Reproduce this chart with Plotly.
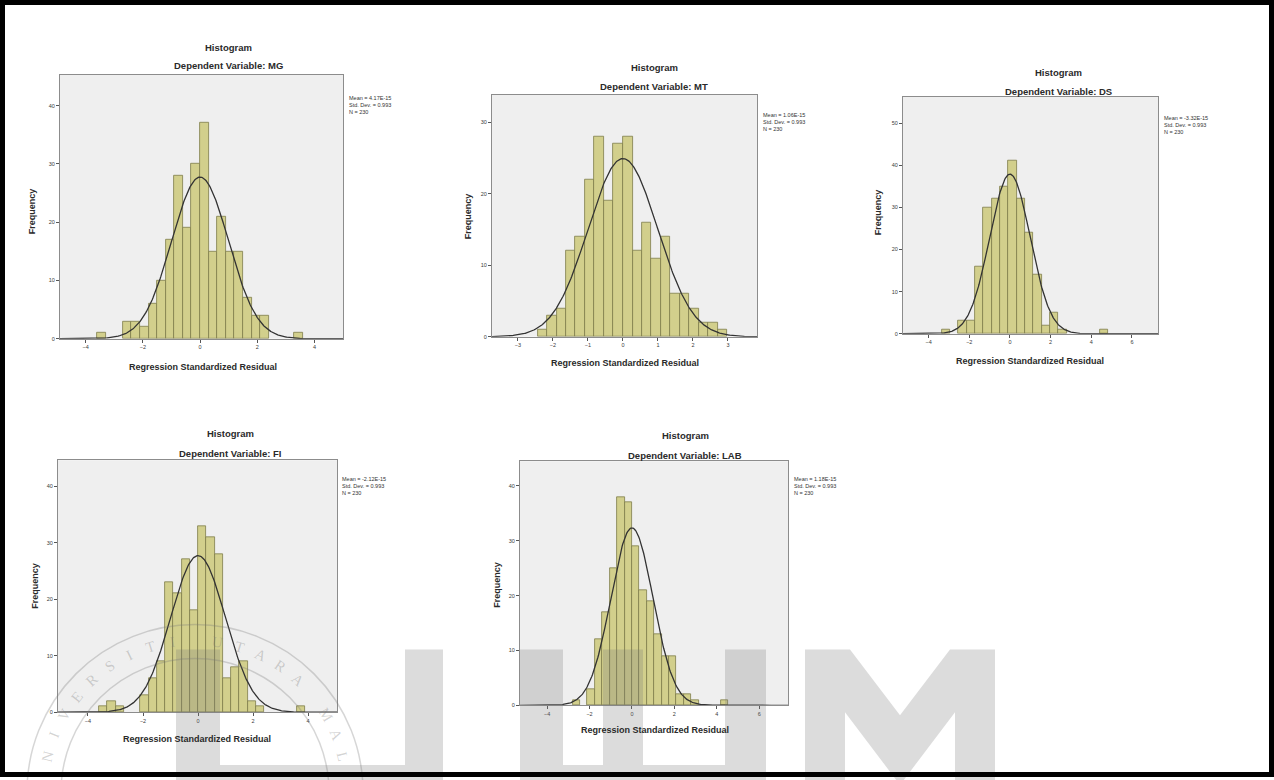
import numpy as np
import plotly.graph_objects as go

W, H = 1274, 780

# ---------------- data ----------------
mg_bins = [-3.45, -2.55, -2.25, -1.95, -1.65, -1.35, -1.05, -0.75, -0.45, -0.15,
           0.15, 0.45, 0.75, 1.05, 1.35, 1.65, 1.95, 2.25, 3.45]
mg_counts = [1, 3, 3, 2, 6, 10, 17, 28, 19, 30, 37, 15, 21, 15, 15, 7, 4, 4, 1]

mt_bins = [-2.30, -2.03, -1.76, -1.49, -1.22, -0.95, -0.68, -0.41, -0.14, 0.14,
           0.41, 0.68, 0.95, 1.22, 1.49, 1.76, 2.03, 2.30, 2.57, 2.84]
mt_counts = [1, 3, 4, 12, 14, 22, 28, 19, 27, 28, 12, 16, 11, 14, 6, 6, 4, 2, 2, 1]

ds_bins = [-3.16, -2.34, -1.93, -1.52, -1.11, -0.70, -0.29, 0.12, 0.53, 0.94,
           1.35, 1.76, 2.17, 2.58, 4.63]
ds_counts = [1, 3, 3, 16, 30, 32, 35, 41, 32, 24, 14, 2, 5, 1, 1]

fi_bins = [-3.45, -3.15, -2.85, -1.95, -1.65, -1.35, -1.05, -0.75, -0.45, -0.15,
           0.15, 0.45, 0.75, 1.05, 1.35, 1.65, 1.95, 2.25, 3.75]
fi_counts = [1, 2, 1, 3, 6, 9, 23, 21, 27, 18, 33, 31, 28, 6, 8, 9, 2, 1, 1]

lab_bins = [-2.625, -1.925, -1.575, -1.225, -0.875, -0.525, -0.175, 0.175, 0.525,
            0.875, 1.225, 1.575, 1.925, 2.275, 2.625, 2.975, 4.375]
lab_counts = [1, 3, 12, 17, 25, 38, 37, 29, 21, 19, 13, 9, 9, 2, 2, 1, 1]

bin_widths = {"MG": 0.30, "MT": 0.27, "DS": 0.41, "FI": 0.30, "LAB": 0.35}
n_cases = 230
resid_mean = 0.0
resid_sd = 0.993
stat_means = {"MG": "4.17E-15", "MT": "1.06E-15", "DS": "-3.32E-15",
              "FI": "-2.12E-15", "LAB": "1.18E-15"}

# ---------------- layout of each panel (pixels) ----------------
panels = [
    dict(name="MG", bins=mg_bins, counts=mg_counts,
         box=(60, 75, 343, 340), xr=(-4.9, 5.0), yr=(0, 45.3),
         xt=[-4, -2, 0, 2, 4], yt=[0, 10, 20, 30, 40],
         tx=228, ty=(48, 66), xl=(203, 368), yl=(32, 212), lg=(347, 93)),
    dict(name="MT", bins=mt_bins, counts=mt_counts,
         box=(492, 95, 757, 338), xr=(-3.74, 3.83), yr=(0, 33.9),
         xt=[-3, -2, -1, 0, 1, 2, 3], yt=[0, 10, 20, 30],
         tx=654, ty=(68, 87), xl=(625, 364), yl=(468, 217), lg=(761, 110)),
    dict(name="DS", bins=ds_bins, counts=ds_counts,
         box=(903, 97, 1158, 335), xr=(-5.26, 7.28), yr=(0, 56.3),
         xt=[-4, -2, 0, 2, 4, 6], yt=[0, 10, 20, 30, 40, 50],
         tx=1058, ty=(73, 92), xl=(1030, 362), yl=(878, 213), lg=(1162, 113)),
    dict(name="FI", bins=fi_bins, counts=fi_counts,
         box=(58, 462, 337, 715), xr=(-5.09, 5.05), yr=(0, 44.6),
         xt=[-4, -2, 0, 2, 4], yt=[0, 10, 20, 30, 40],
         tx=230, ty=(435, 455), xl=(197, 742), yl=(35, 588), lg=(340, 476)),
    dict(name="LAB", bins=lab_bins, counts=lab_counts,
         box=(520, 463, 788, 708), xr=(-5.28, 7.36), yr=(0, 44.5),
         xt=[-4, -2, 0, 2, 4, 6], yt=[0, 10, 20, 30, 40],
         tx=685, ty=(437, 457), xl=(655, 733), yl=(497, 587), lg=(792, 476)),
]


def px(x):
    return x / W


def py(y):
    return 1 - y / H


BAR_FILL = "#d2cf8c"
BAR_LINE = "#7d7c4a"
CURVE = "#333333"
TEXT = "#2a2a2a"
FONT = "Liberation Sans, Arial, sans-serif"

fig = go.Figure()
annotations = []
layout_axes = {}

for i, p in enumerate(panels, start=1):
    xa = "x" if i == 1 else f"x{i}"
    ya = "y" if i == 1 else f"y{i}"
    w = bin_widths[p["name"]]
    fig.add_trace(go.Bar(
        x=p["bins"], y=p["counts"], width=w,
        marker=dict(color=BAR_FILL, line=dict(color=BAR_LINE, width=0.8)),
        xaxis=xa, yaxis=ya, showlegend=False, hoverinfo="x+y"))
    xs = np.linspace(p["xr"][0], p["xr"][1], 400)
    ys = n_cases * w * np.exp(-0.5 * ((xs - resid_mean) / resid_sd) ** 2) / (resid_sd * np.sqrt(2 * np.pi))
    fig.add_trace(go.Scatter(
        x=xs, y=ys, mode="lines", line=dict(color=CURVE, width=1.3),
        xaxis=xa, yaxis=ya, showlegend=False, hoverinfo="skip"))

    x0, y0, x1, y1 = p["box"]
    axis_common = dict(showline=True, mirror=True, linecolor="#8c8c8c", linewidth=1,
                       ticks="outside", ticklen=3, tickcolor="#555555",
                       tickfont=dict(size=5.5, color="#3a3a3a", family=FONT),
                       showgrid=False, zeroline=False, fixedrange=True)
    layout_axes["xaxis" if i == 1 else f"xaxis{i}"] = dict(
        domain=[px(x0), px(x1)], anchor=ya, range=list(p["xr"]),
        tickvals=p["xt"], **axis_common)
    layout_axes["yaxis" if i == 1 else f"yaxis{i}"] = dict(
        domain=[py(y1), py(y0)], anchor=xa, range=list(p["yr"]),
        tickvals=p["yt"], **axis_common)

    annotations += [
        dict(text="<b>Histogram</b>", x=px(p["tx"]), y=py(p["ty"][0]),
             font=dict(size=9.5, color=TEXT, family=FONT)),
        dict(text=f"<b>Dependent Variable: {p['name']}</b>", x=px(p["tx"]), y=py(p["ty"][1]),
             font=dict(size=9.5, color=TEXT, family=FONT)),
        dict(text="<b>Regression Standardized Residual</b>", x=px(p["xl"][0]), y=py(p["xl"][1]),
             font=dict(size=9, color=TEXT, family=FONT)),
        dict(text="<b>Frequency</b>", x=px(p["yl"][0]), y=py(p["yl"][1]), textangle=-90,
             font=dict(size=9, color=TEXT, family=FONT)),
        dict(text=f"Mean = {stat_means[p['name']]}<br>Std. Dev. = {resid_sd}<br>N = {n_cases}",
             x=px(p["lg"][0]), y=py(p["lg"][1]), xanchor="left", yanchor="top", align="left",
             font=dict(size=5.5, color="#333333", family=FONT)),
    ]

for a in annotations:
    a.setdefault("xref", "paper")
    a.setdefault("yref", "paper")
    a.setdefault("showarrow", False)
    a.setdefault("xanchor", "center")
    a.setdefault("yanchor", "middle")

# ---------------- watermark (UUM) ----------------
WM = "rgba(120,120,120,0.26)"


def path_from(points):
    return "M " + " L ".join(f"{px(x):.5f},{py(y):.5f}" for x, y in points) + " Z"


def rect(x0, y0, x1, y1):
    return [(x0, y0), (x1, y0), (x1, y1), (x0, y1)]


shapes = []
wm_polys = [
    [(176, 652), (220, 652), (220, 768), (405, 768), (405, 652), (443, 652),
     (443, 800), (176, 800)],
    [(520, 652), (563, 652), (563, 768), (725, 768), (725, 652), (766, 652),
     (766, 800), (520, 800)],
    rect(603, 652, 643, 768),
    [(805, 800), (805, 652), (850, 652), (900, 718), (950, 652), (995, 652),
     (995, 800), (955, 800), (955, 715), (900, 788), (845, 715), (845, 800)],
]
for poly in wm_polys:
    shapes.append(dict(type="path", path=path_from(poly), xref="paper", yref="paper",
                       fillcolor=WM, line=dict(width=0), layer="above"))

# seal rings
cx, cy = 195, 795
for r in (168, 134):
    shapes.append(dict(type="circle", xref="paper", yref="paper",
                       x0=px(cx - r), x1=px(cx + r), y0=py(cy + r), y1=py(cy - r),
                       line=dict(color="rgba(120,120,120,0.30)", width=1.5),
                       fillcolor="rgba(0,0,0,0)", layer="above"))
seal_text = "UNIVERSITI UTARA MALAYSIA"
for k, ch in enumerate(seal_text):
    if ch == " ":
        continue
    ang = 34 + 8.5 * (k - 14)
    rad = np.radians(ang)
    tx = cx + 152 * np.sin(rad)
    ty = cy - 152 * np.cos(rad)
    if ty > H - 14:
        continue
    annotations.append(dict(text=ch, x=px(tx), y=py(ty), xref="paper", yref="paper",
                            showarrow=False, textangle=ang, xanchor="center", yanchor="middle",
                            font=dict(size=15, color="rgba(120,120,120,0.32)",
                                      family="Liberation Serif, serif")))

# black page frame
shapes.append(dict(type="rect", xref="paper", yref="paper",
                   x0=px(2.5), x1=px(W - 2.5), y0=py(H - 2.5), y1=py(2.5),
                   line=dict(color="black", width=5), fillcolor="rgba(0,0,0,0)", layer="above"))

fig.update_layout(
    width=W, height=H, autosize=False,
    margin=dict(l=0, r=0, t=0, b=0),
    paper_bgcolor="white", plot_bgcolor="#efefef",
    bargap=0, showlegend=False,
    annotations=annotations, shapes=shapes,
    **layout_axes,
)

fig.write_html(
    "out.html",
    config={"displayModeBar": False},
    post_script="document.body.style.margin='0px';document.body.style.overflow='hidden';",
)
